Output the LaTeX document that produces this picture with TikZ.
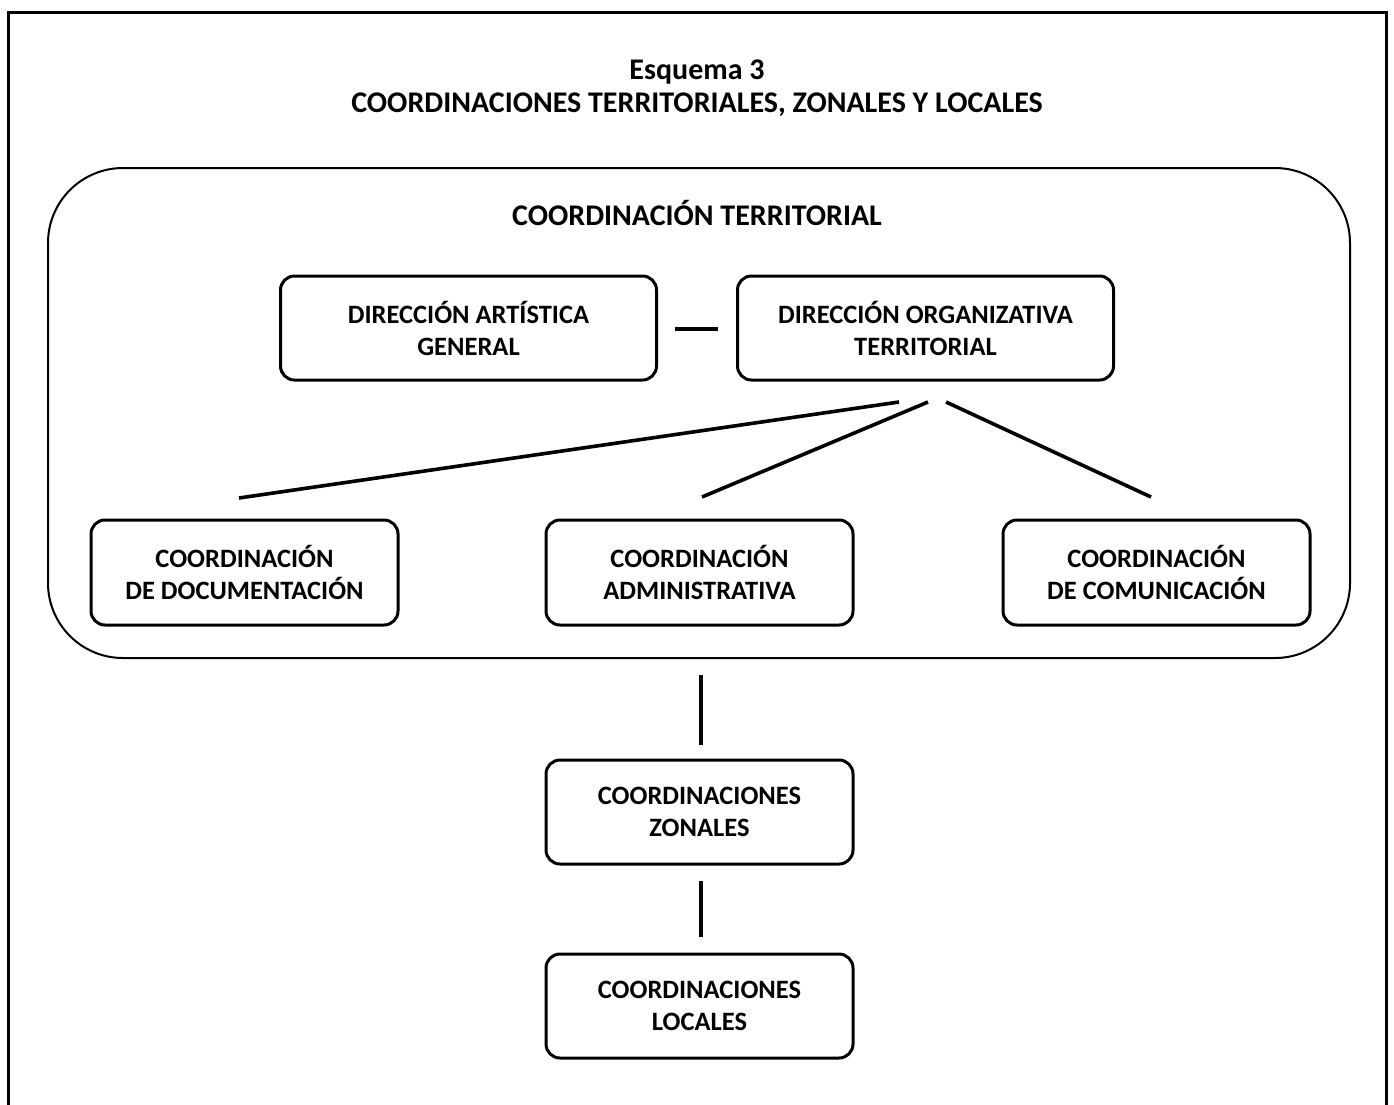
\documentclass[tikz,border=0pt]{standalone}
\usepackage{fontspec}
\setmainfont{Carlito}
\begin{document}
\begin{tikzpicture}[x=1pt,y=-1pt,
  every node/.style={font=\fontsize{30}{32.5}\selectfont\bfseries, align=center, inner sep=0pt},
  box/.style={draw, line width=3pt, rounded corners=14pt, minimum height=104pt,
    font=\fontsize{26.5}{32}\selectfont\bfseries},
  conn/.style={line width=3.6pt},
  frame/.style={line width=3pt}]
\useasboundingbox (0,0) rectangle (1394,1104);
\draw[frame] (8,1106) -- (8,12) -- (1386,12) -- (1386,1106);
\node (title) at (697,88) {Esquema 3\\COORDINACIONES TERRITORIALES, ZONALES Y LOCALES};
\node[draw, line width=2pt, rounded corners=75pt, minimum width=1302pt, minimum height=490pt] (outer) at (699,413) {};
\node (outerlabel) at (697,213) {COORDINACIÓN TERRITORIAL};
\node[box, minimum width=376pt] (dag) at (468.5,328) {DIRECCIÓN ARTÍSTICA\\GENERAL};
\node[box, minimum width=376pt] (dot) at (925.5,328) {DIRECCIÓN ORGANIZATIVA\\TERRITORIAL};
\node[box, minimum width=307pt, minimum height=105pt] (cdoc) at (244.5,572.5) {COORDINACIÓN\\DE DOCUMENTACIÓN};
\node[box, minimum width=307pt, minimum height=105pt] (cadm) at (699.5,572.5) {COORDINACIÓN\\ADMINISTRATIVA};
\node[box, minimum width=307pt, minimum height=105pt] (ccom) at (1156.5,572.5) {COORDINACIÓN\\DE COMUNICACIÓN};
\node[box, minimum width=307pt] (czon) at (699.5,812) {COORDINACIONES\\ZONALES};
\node[box, minimum width=307pt] (cloc) at (699.5,1006) {COORDINACIONES\\LOCALES};
% connector end points
\coordinate (d1) at (675,329);
\coordinate (d2) at (718,329);
\coordinate (t1) at (899,402);
\coordinate (b1) at (239,498);
\coordinate (t2) at (928,402);
\coordinate (b2) at (702,497);
\coordinate (t3) at (946,402);
\coordinate (b3) at (1151,497);
\coordinate (v1a) at (701,675);
\coordinate (v1b) at (701,745);
\coordinate (v2a) at (701,881);
\coordinate (v2b) at (701,937);
\draw[conn] (d1) -- (d2);
\draw[conn] (t1) -- (b1);
\draw[conn] (t2) -- (b2);
\draw[conn] (t3) -- (b3);
\draw[conn] (v1a) -- (v1b);
\draw[conn] (v2a) -- (v2b);
\end{tikzpicture}
\end{document}
